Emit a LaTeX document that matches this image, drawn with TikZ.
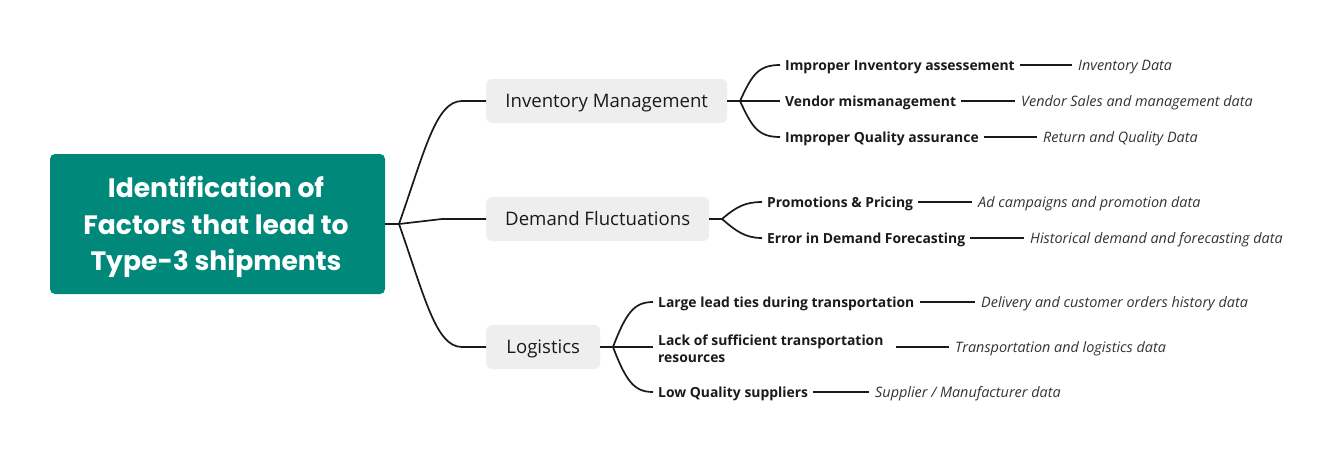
\documentclass[tikz,border=0pt]{standalone}
\usepackage{fontspec}
\setmainfont{Open Sans}
\newfontfamily\rootfont{Poppins}
\definecolor{teal1}{RGB}{0,137,123}
\definecolor{boxgray}{RGB}{238,238,238}
\definecolor{ink}{RGB}{26,26,26}
\definecolor{datagray}{RGB}{51,51,51}
\begin{document}
\begin{tikzpicture}[x=1pt,y=-1pt,
  rootbox/.style={fill=teal1,rounded corners=5pt,minimum width=335pt,minimum height=140pt,inner sep=0pt},
  roottxt/.style={text=white,align=center,font=\rootfont\bfseries\fontsize{26.6}{36.5}\selectfont,inner sep=0pt},
  catbox/.style={fill=boxgray,rounded corners=6pt,minimum height=44pt,anchor=west,text=ink,font=\fontsize{18.6}{20}\selectfont,inner sep=0pt,text height=15.3pt,text depth=2pt},
  factorbase/.style={anchor=west,inner xsep=5pt,inner ysep=0pt,text=ink,font=\bfseries\fontsize{13.9}{17}\selectfont,align=left},
  factor/.style={factorbase,text height=12pt,text depth=2pt},
  datum/.style={anchor=west,inner xsep=6pt,inner ysep=0pt,text=datagray,font=\itshape\fontsize{14.4}{16}\selectfont,text height=12.5pt,text depth=2.2pt},
  conn/.style={draw=ink,line width=1.7pt},
  tie/.style={draw=ink,line width=1.3pt}
]
\useasboundingbox (0,0) rectangle (1342,458);
\fill[white] (0,0) rectangle (1342,458);

\node[rootbox] (root) at (217.5,224) {};
\node[roottxt] (roottext) at (216,227) {Identification of\\Factors that lead to\\ Type-3 shipments};

\node[catbox,minimum width=241pt] (inv) at (486,101) {Inventory Management};
\node[catbox,minimum width=223pt] (dem) at (486,219) {Demand Fluctuations};
\node[catbox,minimum width=114pt] (log) at (486,347) {Logistics};

\coordinate (j0) at (399,224);
\coordinate (ji) at (740,101);
\coordinate (jd) at (722,219);
\coordinate (jl) at (613,347);

\draw[conn] (root.east) -- (j0);
\draw[conn] (j0) .. controls (425,150) and (436,101) .. (462,101) -- (inv.west);
\draw[conn] (j0) .. controls (420,221) .. (442,219) -- (dem.west);
\draw[conn] (j0) .. controls (425,298) and (436,347) .. (462,347) -- (log.west);

% Inventory children
\node[factor] (f1) at (780,65) {Improper Inventory assessement};
\node[factor] (f2) at (780,101) {Vendor mismanagement};
\node[factor] (f3) at (780,137) {Improper Quality assurance};
\node[datum] (d1) at (1072,65) {Inventory Data};
\node[datum] (d2) at (1015,101) {Vendor Sales and management data};
\node[datum] (d3) at (1037,137) {Return and Quality Data};

% Demand children
\node[factor] (f4) at (762,202) {Promotions \& Pricing};
\node[factor] (f5) at (762,238) {Error in Demand Forecasting};
\node[datum] (d4) at (972,202) {Ad campaigns and promotion data};
\node[datum] (d5) at (1024,238) {Historical demand and forecasting data};

% Logistics children
\node[factor] (f6) at (653,302) {Large lead ties during transportation};
\node[factorbase] (f7) at (653,348.5) {Lack of sufficient transportation\\resources};
\node[factor] (f8) at (653,392) {Low Quality suppliers};
\node[datum] (d6) at (975,302) {Delivery and customer orders history data};
\node[datum] (d7) at (949,347) {Transportation and logistics data};
\node[datum] (d8) at (869,392) {Supplier / Manufacturer data};
\coordinate (t7) at (896,347);

% branch connectors
\draw[conn] (inv.east) -- (ji);
\draw[conn] (ji) .. controls (752,75) and (758,65) .. (f1.west);
\draw[conn] (ji) -- (f2.west);
\draw[conn] (ji) .. controls (752,127) and (758,137) .. (f3.west);

\draw[conn] (dem.east) -- (jd);
\draw[conn] (jd) .. controls (736,207) and (745,202) .. (f4.west);
\draw[conn] (jd) .. controls (736,231) and (745,238) .. (f5.west);

\draw[conn] (log.east) -- (jl);
\draw[conn] (jl) .. controls (626,313) and (634,302) .. (f6.west);
\draw[conn] (jl) -- (f7.west |- jl);
\draw[conn] (jl) .. controls (626,381) and (634,392) .. (f8.west);

% ties to data
\draw[tie] (f1.east) -- (d1.west);
\draw[tie] (f2.east) -- (d2.west);
\draw[tie] (f3.east) -- (d3.west);
\draw[tie] (f4.east) -- (d4.west);
\draw[tie] (f5.east) -- (d5.west);
\draw[tie] (f6.east) -- (d6.west);
\draw[tie] (t7) -- (d7.west);
\draw[tie] (f8.east) -- (d8.west);
\end{tikzpicture}
\end{document}
